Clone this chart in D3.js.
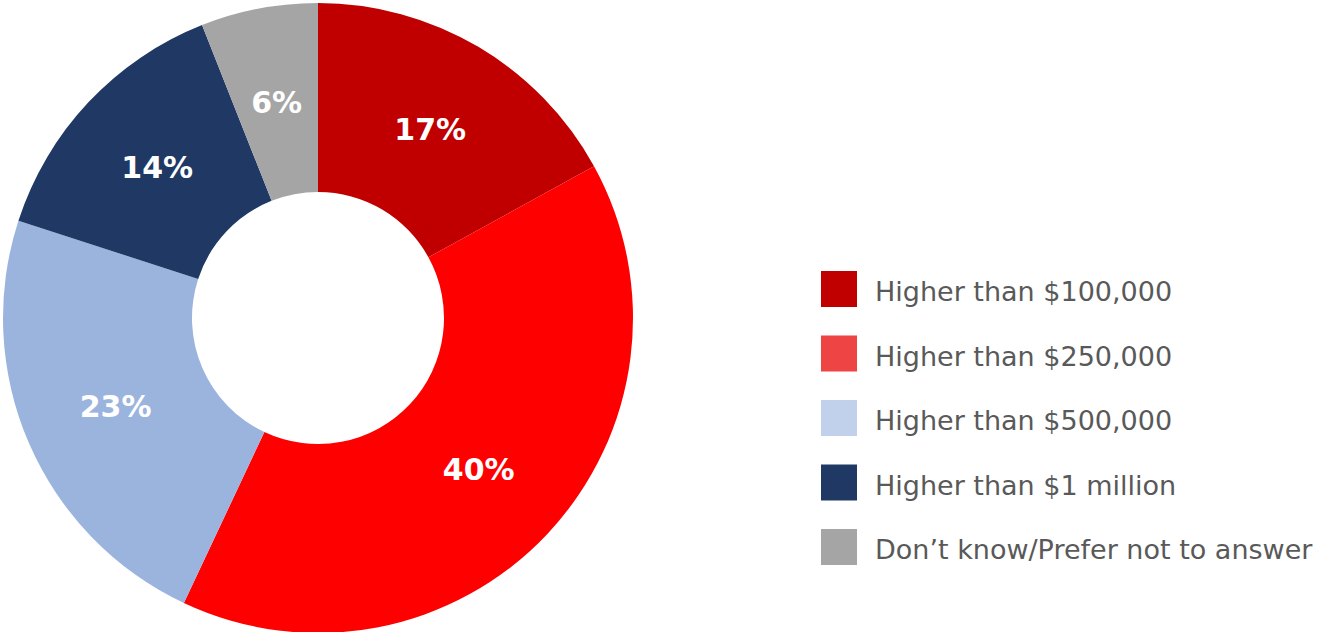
<!DOCTYPE html>
<html><head><meta charset="utf-8">
<script src="https://cdn.jsdelivr.net/npm/d3@7"></script>
<style>body{margin:0;background:#fff;} svg{display:block;}</style>
</head><body>
<svg id="c" width="1337" height="632"></svg>
<script>
const categories = ["Higher than $100,000","Higher than $250,000","Higher than $500,000","Higher than $1 million","Don\u2019t know/Prefer not to answer"];
const values = [17, 40, 23, 14, 6];
const sliceColors = ["#c00000","#ff0000","#9bb4de","#203864","#a5a5a5"];
const legendColors = ["#c00000","#ee4444","#c1d0eb","#203864","#a5a5a5"];

const svg = d3.select("#c");
const cx = 318, cy = 318, rOut = 315, rIn = 126;
const pie = d3.pie().sort(null).value(d => d)(values);
const arc = d3.arc().innerRadius(rIn).outerRadius(rOut);
const g = svg.append("g").attr("transform", `translate(${cx},${cy})`);
g.selectAll("path").data(pie).join("path")
  .attr("d", arc).attr("fill", (d,i) => sliceColors[i]);
g.selectAll("text").data(pie).join("text")
  .attr("transform", d => `translate(${arc.centroid(d)})`)
  .attr("text-anchor","middle").attr("dy","0.38em")
  .attr("fill","#fff").attr("font-family","'DejaVu Sans', sans-serif")
  .attr("font-weight","bold").attr("font-size",30)
  .text(d => d.data + "%");

const leg = svg.append("g");
const y0 = 271, step = 64.5;
const items = leg.selectAll("g").data(categories).join("g")
  .attr("transform", (d,i) => `translate(821,${y0 + i*step})`);
items.append("rect").attr("width",36).attr("height",36).attr("fill",(d,i)=>legendColors[i]);
items.append("text").attr("x",54).attr("y",30)
  .attr("fill","#595959").attr("font-family","'DejaVu Sans', sans-serif")
  .attr("font-size",27).text(d=>d);
</script>
</body></html>
